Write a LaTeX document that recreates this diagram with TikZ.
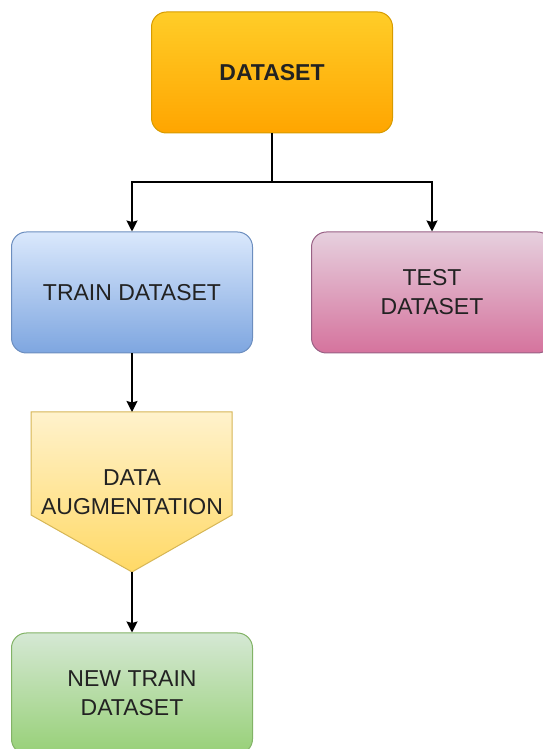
\documentclass[tikz,border=0pt]{standalone}
\usepackage{fontspec}
\setmainfont{Liberation Sans}
\usetikzlibrary{arrows.meta}

\definecolor{dsTop}{HTML}{FFCD28}
\definecolor{dsBot}{HTML}{FFA500}
\definecolor{dsLine}{HTML}{D79B00}
\definecolor{trTop}{HTML}{DAE8FC}
\definecolor{trBot}{HTML}{7EA6E0}
\definecolor{trLine}{HTML}{6C8EBF}
\definecolor{teTop}{HTML}{E6D0DE}
\definecolor{teBot}{HTML}{D5739D}
\definecolor{teLine}{HTML}{996185}
\definecolor{auTop}{HTML}{FFF2CC}
\definecolor{auBot}{HTML}{FFD966}
\definecolor{auLine}{HTML}{D6B656}
\definecolor{ntTop}{HTML}{D5E8D4}
\definecolor{ntBot}{HTML}{97D077}
\definecolor{ntLine}{HTML}{82B366}
\definecolor{txt}{HTML}{222222}

\tikzset{
  box/.style={rectangle, rounded corners=15pt, minimum width=241pt, minimum height=121pt,
    align=center, line width=1pt, text=txt, font=\fontsize{23}{29}\selectfont},
  arr/.style={line width=1.5pt, -{Stealth[length=11pt,width=11pt,inset=1.5pt]}},
}

\begin{document}
\begin{tikzpicture}[x=1pt,y=1pt]
\useasboundingbox (0,0) rectangle (542,749);
\node[box,top color=dsTop,bottom color=dsBot,draw=dsLine,font=\fontsize{23}{29}\selectfont\bfseries] (dataset) at (272,676.5) {DATASET};
\node[box,top color=trTop,bottom color=trBot,draw=trLine] (train) at (132,456.5) {TRAIN DATASET};
\node[box,top color=teTop,bottom color=teBot,draw=teLine] (test) at (432,456.5) {TEST\\DATASET};
% off-page shape for the augmentation step
\shade[top color=auTop,bottom color=auBot,draw=auLine,line width=1pt]
  (31,337) coordinate (augtop-l) -- (232,337) -- (232,234) -- (132,177) coordinate (augtip) -- (31,234) -- cycle;
\coordinate (augtop) at (132,337);
\node[align=center,text=txt,font=\fontsize{23}{29}\selectfont] (aug) at (132,257) {DATA\\AUGMENTATION};
\node[box,top color=ntTop,bottom color=ntBot,draw=ntLine] (newtrain) at (132,55.5) {NEW TRAIN\\DATASET};
\coordinate (split) at (272,567);
\draw[line width=1.5pt] (dataset.south) -- (split);
\draw[arr] (split) -| (train.north);
\draw[arr] (split) -| (test.north);
\draw[arr] (train.south) -- (augtop);
\draw[arr] (augtip) -- (newtrain.north);
\end{tikzpicture}
\end{document}
